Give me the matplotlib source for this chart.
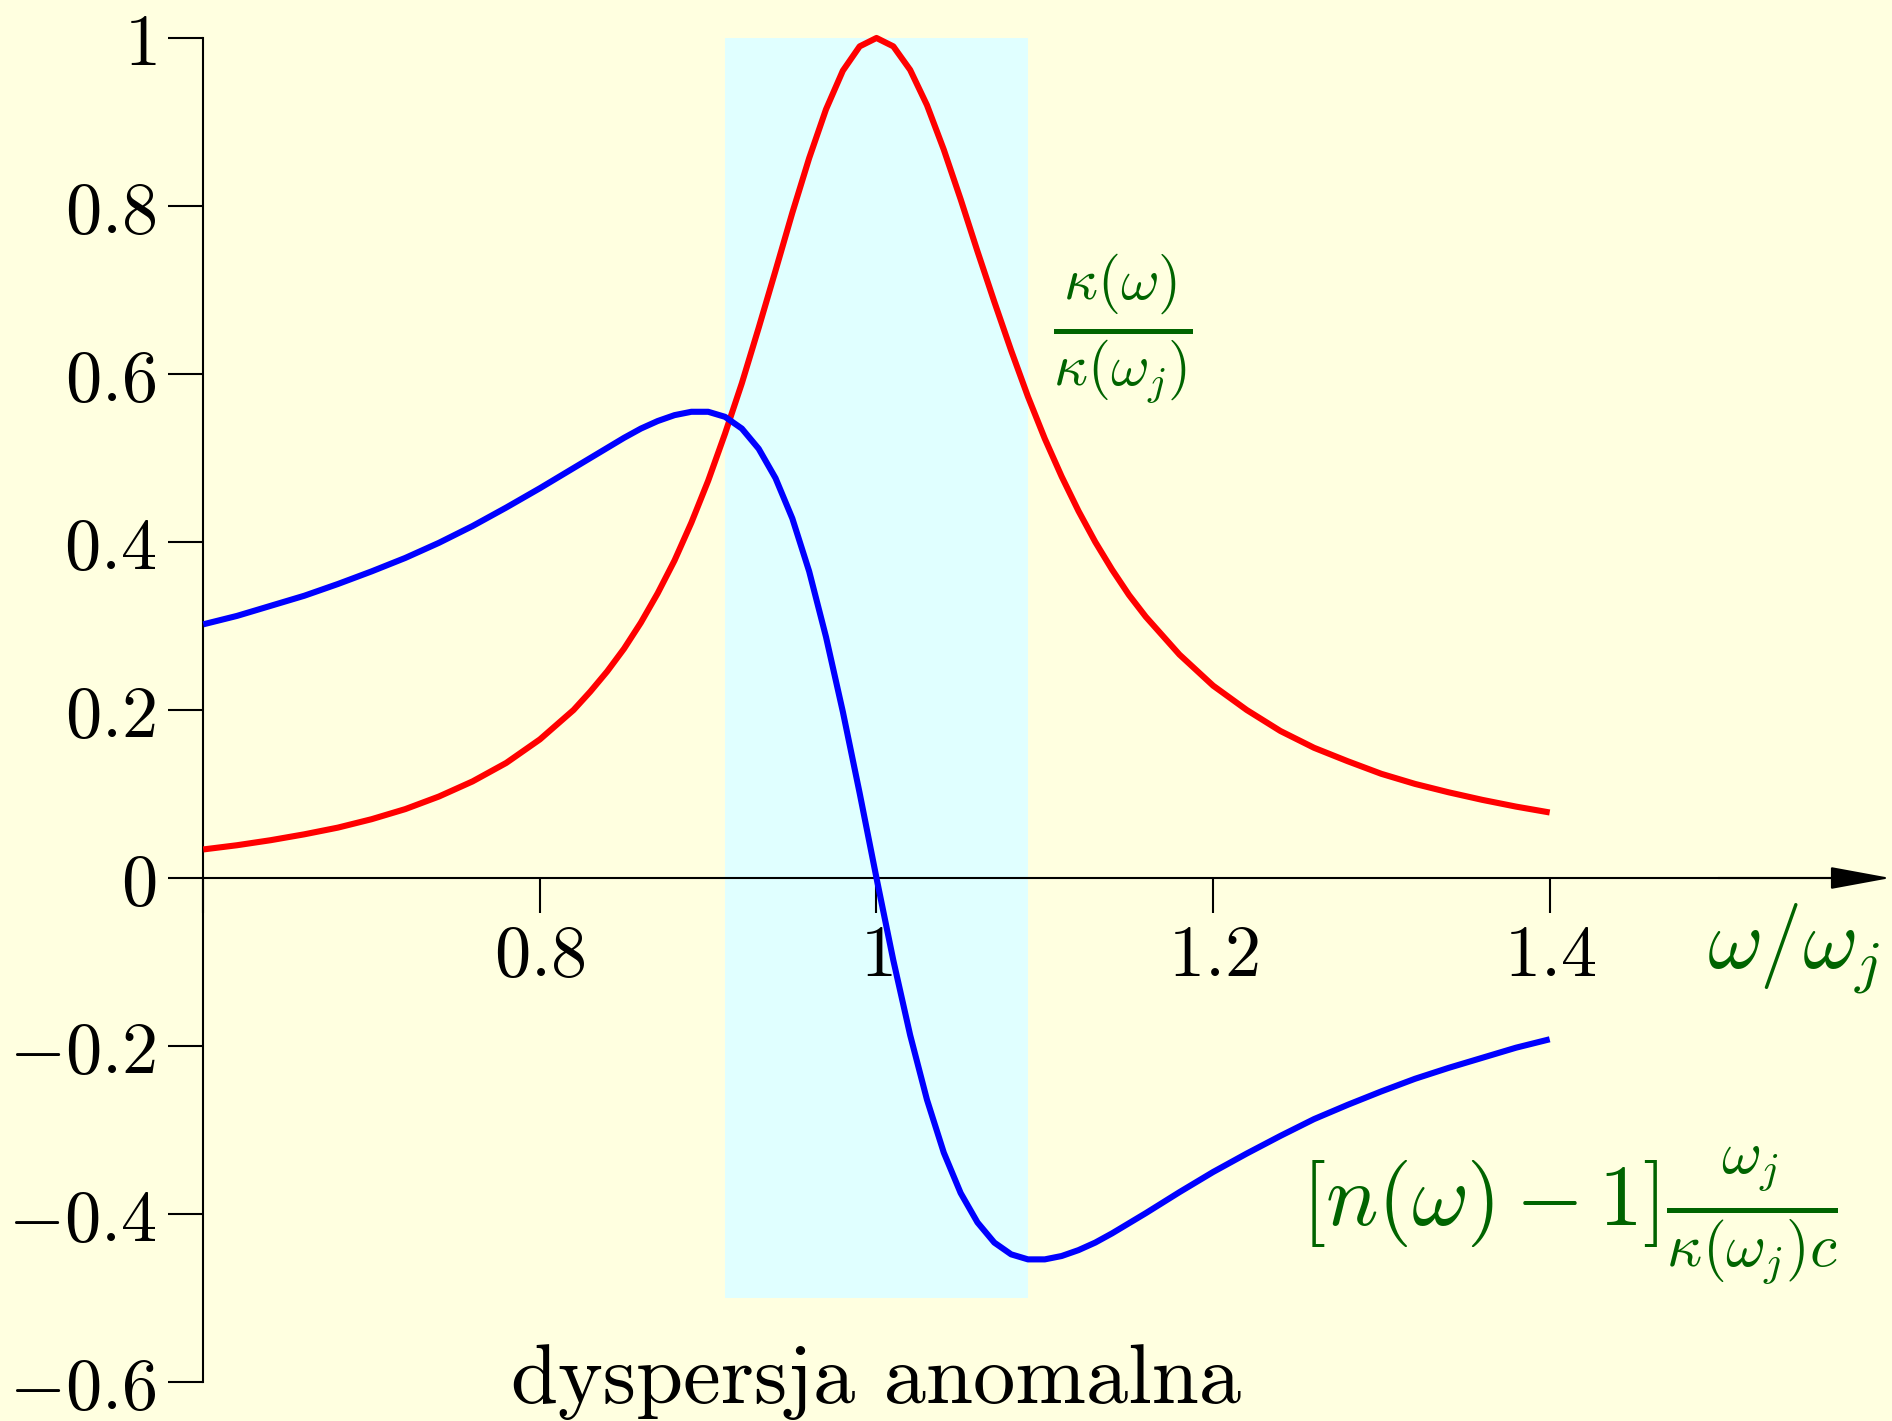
import matplotlib
matplotlib.use("Agg")
import matplotlib.pyplot as plt

plt.rcParams["mathtext.fontset"] = "cm"

# frequency ratio omega / omega_j
omega = [0.60, 0.62, 0.64, 0.66, 0.68, 0.70, 0.72, 0.74, 0.76, 0.78, 0.80, 0.82,
         0.83, 0.84, 0.85, 0.86, 0.87, 0.88, 0.89, 0.90, 0.91, 0.92, 0.93, 0.94,
         0.95, 0.96, 0.97, 0.98, 0.99, 1.00, 1.01, 1.02, 1.03, 1.04, 1.05, 1.06,
         1.07, 1.08, 1.09, 1.10, 1.11, 1.12, 1.13, 1.14, 1.15, 1.16, 1.18, 1.20,
         1.22, 1.24, 1.26, 1.28, 1.30, 1.32, 1.34, 1.36, 1.38, 1.40]

# absorption  kappa(omega) / kappa(omega_j)
absorption = [0.034, 0.039, 0.045, 0.052, 0.060, 0.070, 0.082, 0.097, 0.115, 0.137,
              0.165, 0.200, 0.222, 0.246, 0.273, 0.304, 0.339, 0.378, 0.423, 0.473,
              0.529, 0.589, 0.655, 0.723, 0.792, 0.857, 0.915, 0.961, 0.990, 1.000,
              0.990, 0.962, 0.920, 0.867, 0.808, 0.746, 0.686, 0.628, 0.573, 0.523,
              0.478, 0.437, 0.400, 0.367, 0.337, 0.311, 0.266, 0.229, 0.200, 0.175,
              0.155, 0.139, 0.124, 0.112, 0.102, 0.093, 0.085, 0.078]

# dispersion  [n(omega) - 1] omega_j / (kappa(omega_j) c)
dispersion = [0.302, 0.312, 0.324, 0.336, 0.350, 0.365, 0.381, 0.399, 0.419, 0.441,
              0.464, 0.488, 0.500, 0.512, 0.524, 0.535, 0.544, 0.551, 0.555, 0.555,
              0.549, 0.535, 0.511, 0.476, 0.428, 0.365, 0.287, 0.198, 0.101, 0.000,
              -0.098, -0.187, -0.264, -0.327, -0.375, -0.410, -0.434, -0.448, -0.454, -0.454,
              -0.450, -0.443, -0.434, -0.423, -0.411, -0.399, -0.374, -0.350, -0.328, -0.307,
              -0.287, -0.270, -0.254, -0.239, -0.226, -0.214, -0.202, -0.192]

# anomalous dispersion band
band_x = [0.91, 1.09]
band_low, band_high = -0.5, 1.0

x_ticks = [0.6, 0.8, 1.0, 1.2, 1.4]
x_tick_labels = ["", "$0.8$", "$1$", "$1.2$", "$1.4$"]
y_ticks = [1.0, 0.8, 0.6, 0.4, 0.2, 0.0, -0.2, -0.4, -0.6]
y_tick_labels = ["$1$", "$0.8$", "$0.6$", "$0.4$", "$0.2$", "$0$",
                 "$-0.2$", "$-0.4$", "$-0.6$"]

bg = "#ffffe0"
green = "#006400"

fig = plt.figure(figsize=(18.92, 14.21), dpi=100, facecolor=bg)
ax = fig.add_axes([0, 0, 1, 1], facecolor=bg)
ax.set_xlim(0.4792, 1.6034)
ax.set_ylim(-0.6464, 1.0452)

ax.fill_between(band_x, band_low, band_high, color="#e0ffff", lw=0, zorder=0)

ax.plot(omega, absorption, color="#ff0000", lw=4.4, solid_joinstyle="round",
        solid_capstyle="butt", zorder=3, clip_on=False)
ax.plot(omega, dispersion, color="#0000ff", lw=4.4, solid_joinstyle="round",
        solid_capstyle="butt", zorder=3, clip_on=False)

# axes through the origin of the plot
for s in ("top", "right"):
    ax.spines[s].set_visible(False)
ax.spines["left"].set_position(("data", 0.6))
ax.spines["left"].set_bounds(-0.6, 1.0)
ax.spines["bottom"].set_position(("data", 0.0))
ax.spines["bottom"].set_bounds(0.6, 1.58)
for s in ("left", "bottom"):
    ax.spines[s].set_linewidth(1.5)
    ax.spines[s].set_zorder(2)

ax.annotate("", xy=(1.6025, 0.0), xytext=(1.50, 0.0),
            arrowprops=dict(arrowstyle="-|>,head_length=3.8,head_width=0.70",
                            mutation_scale=10, color="black", lw=1.5,
                            shrinkA=0, shrinkB=0),
            annotation_clip=False, zorder=2)

ax.set_xticks(x_ticks)
ax.set_xticklabels(x_tick_labels)
ax.set_yticks(y_ticks)
ax.set_yticklabels(y_tick_labels)
ax.tick_params(axis="both", direction="out", length=25, width=1.5,
               labelsize=52, colors="black")
ax.tick_params(axis="x", pad=7)
ax.tick_params(axis="y", pad=9)

ax.text(1.4935, -0.106, r"$\omega/\omega_j$", color=green, fontsize=61,
        ha="left", va="baseline")
ax.text(1.1462, 0.654, r"$\frac{\kappa(\omega)}{\kappa(\omega_j)}$", color=green,
        fontsize=61, ha="center", va="center")
ax.text(1.4118, -0.413, r"$[n(\omega)-1]\frac{\omega_j}{\kappa(\omega_j)c}$",
        color=green, fontsize=63, ha="center", va="baseline")
ax.text(1.0, -0.625, "dyspersja anomalna", family="cmr10", fontsize=61,
        ha="center", va="baseline", color="black")

fig.savefig("out.png", dpi=100, facecolor=bg)
